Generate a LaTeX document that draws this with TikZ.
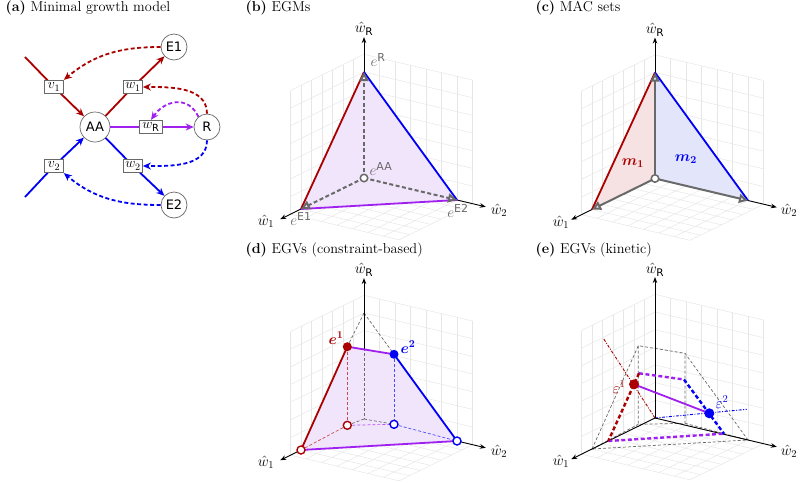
\documentclass[tikz,border=0pt]{standalone}
\usepackage{fix-cm}
\usepackage{amsmath,bm}
\usepackage{fontspec}
\newfontfamily\dejavu{DejaVu Sans}
\usetikzlibrary{arrows.meta}
\definecolor{cred}{RGB}{170,0,0}
\definecolor{cblue}{RGB}{0,0,245}
\definecolor{cpur}{RGB}{160,32,240}
\definecolor{cgray}{RGB}{105,105,105}
\definecolor{cgrid}{RGB}{230,230,230}
\definecolor{pfill}{RGB}{241,229,252}
\definecolor{rfill}{RGB}{246,226,226}
\definecolor{bfill}{RGB}{227,229,251}
\newcommand{\sfR}[1]{\text{\dejavu #1}}
\newcommand{\sfS}[1]{\text{\dejavu\fontsize{11}{12}\selectfont #1}}
\newcommand{\mygrid}{%
  \foreach \i in {0,...,7}{
    \draw[gridl] (\i/6,0,0) -- (\i/6,0,7/6);
    \draw[gridl] (0,0,\i/6) -- (7/6,0,\i/6);
    \draw[gridl] (0,\i/6,0) -- (0,\i/6,7/6);
    \draw[gridl] (0,0,\i/6) -- (0,7/6,\i/6);
    \draw[gridl] (\i/6,0,0) -- (\i/6,7/6,0);
    \draw[gridl] (0,\i/6,0) -- (7/6,\i/6,0);
  }}
\tikzset{
  P3/.style={x={(-63pt,-31pt)},y={(93pt,-22pt)},z={(0pt,106pt)}},
  gridl/.style={cgrid, line width=0.5pt},
  axl/.style={black, line width=0.9pt, -{Stealth[length=6pt,width=4.5pt]}},
  thk/.style={line width=1.8pt},
  atip/.style={-{Stealth[length=8pt,width=7pt]}},
  dsh/.style={dash pattern=on 4pt off 2.5pt},
  circnode/.style={circle, draw=cgray, line width=0.7pt, minimum size=26pt, inner sep=0pt, font=\dejavu\fontsize{13}{15}\selectfont, fill=white},
  boxnode/.style={rectangle, draw=cgray, line width=0.8pt, fill=white, minimum width=19pt, minimum height=13.5pt, inner sep=1pt, font=\fontsize{14}{16}\selectfont},
  garrow/.style={cgray, line width=2pt, -{Triangle[open,length=9pt,width=9pt]}},
  thindash/.style={line width=0.7pt, dash pattern=on 3pt off 2pt},
  thickdash/.style={line width=2.4pt, dash pattern=on 4pt off 2.5pt},
  dashdot/.style={line width=0.9pt, dash pattern=on 3pt off 1.5pt on 1pt off 1.5pt},
  hdot/.style={circle, draw=#1, line width=1.4pt, fill=white, minimum size=8pt, inner sep=0pt},
  fdot/.style={circle, fill=#1, minimum size=9pt, inner sep=0pt},
  omark/.style={circle, draw=cgray, line width=1.5pt, fill=white, minimum size=7.5pt, inner sep=0pt},
  ttl/.style={anchor=base west, font=\fontsize{14.3}{16}\selectfont},
  axlab/.style={font=\fontsize{15}{17}\selectfont},
  lab/.style={font=\fontsize{15}{17}\selectfont},
}
\begin{document}
\begin{tikzpicture}[x=1pt,y=-1pt, font=\fontsize{13}{15}\selectfont]
\useasboundingbox (0,0) rectangle (800,482);

% ---------------- titles
\node[ttl] (ta) at (2,11.5) {\textbf{(a)} Minimal growth model};
\node[ttl] (tb) at (242,11.5) {\textbf{(b)} EGMs};
\node[ttl] (tc) at (532,11.5) {\textbf{(c)} MAC sets};
\node[ttl] (td) at (242,253) {\textbf{(d)} EGVs (constraint-based)};
\node[ttl] (te) at (532,253) {\textbf{(e)} EGVs (kinetic)};

% ---------------- panel (a)
\node[circnode, minimum size=30pt] (AA) at (95,127) {AA};
\node[circnode] (R) at (207,127) {R};
\node[circnode] (E1) at (174,47) {E1};
\node[circnode] (E2) at (174,205) {E2};
\coordinate (in1) at (25,57);
\coordinate (in2) at (25,197);
\draw[cred, thk] (in1) -- (54,87);
\draw[cblue, thk] (in2) -- (54,166);
\draw[cred, thk, atip] (54,87) -- (AA);
\draw[cblue, thk, atip] (54,166) -- (AA);
\draw[cred, thk] (AA) -- (133,87);
\draw[cred, thk, atip] (133,87) -- (E1);
\draw[cblue, thk] (AA) -- (133,166);
\draw[cblue, thk, atip] (133,166) -- (E2);
\draw[cpur, thk] (AA) -- (151,127);
\draw[cpur, thk, atip] (151,127) -- (R);
\node[boxnode] (v1) at (54,87) {$v_1$};
\node[boxnode] (w1) at (133,87) {$w_1$};
\node[boxnode, minimum width=23pt] (wR) at (151,127) {$w_{\sfR{R}}$};
\node[boxnode] (v2) at (54,166) {$v_2$};
\node[boxnode] (w2) at (133,166) {$w_2$};
\draw[cred, thk, dsh, atip] (E1.west) to[out=180,in=40] (v1.north east);
\draw[cred, thk, dsh, atip] (R.north) to[out=90,in=0] (w1.east);
\draw[cpur, thk, dsh, atip] (R.130) to[out=115,in=55,looseness=1.3] (wR.north);
\draw[cblue, thk, dsh, atip] (R.south) to[out=-90,in=0] (w2.east);
\draw[cblue, thk, dsh, atip] (E2.west) to[out=180,in=-40] (v2.south east);

% ---------------- panel (b)
\begin{scope}[shift={(364,178)}, P3]
  \mygrid
  \coordinate (bO) at (0,0,0);
  \coordinate (bE1) at (1,0,0);
  \coordinate (bE2) at (0,1,0);
  \coordinate (bR) at (0,0,1);
  \coordinate (bT1) at (1.33,0,0);
  \coordinate (bT2) at (0,1.31,0);
  \coordinate (bTR) at (0,0,1.33);
\end{scope}
\fill[pfill] (bE1) -- (bR) -- (bE2) -- cycle;
\draw[axl] (bR) -- (bTR);
\draw[axl] (bE1) -- (bT1);
\draw[axl] (bE2) -- (bT2);
\draw[cred, thk] (bE1) -- (bR);
\draw[cblue, thk] (bR) -- (bE2);
\draw[cpur, thk] (bE1) -- (bE2);
\draw[garrow, dsh] (bO) -- (bR);
\draw[garrow, dsh] (bO) -- (bE1);
\draw[garrow, dsh] (bO) -- (bE2);
\node[omark] (bOm) at (bO) {};
\node[axlab] (bLR) at (364,29) {$\hat w_{\sfR{R}}$};
\node[axlab] (bL1) at (266,221) {$\hat w_1$};
\node[axlab] (bL2) at (499,210) {$\hat w_2$};
\node[lab, text=cgray] (beR) at (378,60) {$e^{\sfS{R}}$};
\node[lab, text=cgray] (beAA) at (381,169) {$e^{\sfS{AA}}$};
\node[lab, text=cgray] (beE1) at (301,219) {$e^{\sfS{E1}}$};
\node[lab, text=cgray] (beE2) at (458,211) {$e^{\sfS{E2}}$};

% ---------------- panel (c)
\begin{scope}[shift={(655,178.5)}, P3]
  \mygrid
  \coordinate (cO) at (0,0,0);
  \coordinate (cE1) at (1,0,0);
  \coordinate (cE2) at (0,1,0);
  \coordinate (cR) at (0,0,1);
  \coordinate (cT1) at (1.33,0,0);
  \coordinate (cT2) at (0,1.31,0);
  \coordinate (cTR) at (0,0,1.33);
\end{scope}
\fill[rfill] (cO) -- (cE1) -- (cR) -- cycle;
\fill[bfill] (cO) -- (cE2) -- (cR) -- cycle;
\draw[axl] (cR) -- (cTR);
\draw[axl] (cE1) -- (cT1);
\draw[axl] (cE2) -- (cT2);
\draw[cred, thk] (cE1) -- (cR);
\draw[cblue, thk] (cR) -- (cE2);
\draw[garrow] (cO) -- (cR);
\draw[garrow] (cO) -- (cE1);
\draw[garrow] (cO) -- (cE2);
\node[omark] (cOm) at (cO) {};
\node[axlab] (cLR) at (655,30) {$\hat w_{\sfR{R}}$};
\node[axlab] (cL1) at (561,222) {$\hat w_1$};
\node[axlab] (cL2) at (789,210) {$\hat w_2$};
\node[lab, text=cred] (cm1) at (633,163) {$\bm{m_1}$};
\node[lab, text=cblue] (cm2) at (686,159) {$\bm{m_2}$};

% ---------------- panel (d)
\begin{scope}[shift={(364,419)}, P3]
  \mygrid
  \coordinate (dO) at (0,0,0);
  \coordinate (dE1) at (1,0,0);
  \coordinate (dE2) at (0,1,0);
  \coordinate (dR) at (0,0,1);
  \coordinate (dT1) at (1.33,0,0);
  \coordinate (dT2) at (0,1.31,0);
  \coordinate (dTR) at (0,0,1.33);
\end{scope}
\coordinate (de1) at (347.3,346.7);
\coordinate (de2) at (394,354.3);
\coordinate (df1) at (347.3,425.3);
\coordinate (df2) at (394,424.3);
\coordinate (dRa) at (364,349.4);
\fill[pfill] (dE1) -- (de1) -- (de2) -- (dE2) -- cycle;
\draw[cgray, thindash] (dR) -- (de1);
\draw[cgray, thindash] (dR) -- (de2);
\draw[cgray, thindash] (dR) -- (dO);
\draw[cgray, thindash] (dO) -- (df1);
\draw[cgray, thindash] (dO) -- (df2);
\draw[cred!70, thindash] (de1) -- (df1);
\draw[cred!70, thindash] (df1) -- (dE1);
\draw[cblue!70, thindash] (de2) -- (df2);
\draw[cblue!70, thindash] (df2) -- (dE2);
\draw[cpur!80, thindash] (df1) -- (df2);
\draw[axl] (dRa) -- (dTR);
\draw[axl] (dE1) -- (dT1);
\draw[axl] (dE2) -- (dT2);
\draw[cred, thk] (dE1) -- (de1);
\draw[cpur, thk] (de1) -- (de2);
\draw[cblue, thk] (de2) -- (dE2);
\draw[cpur, thk] (dE1) -- (dE2);
\node[fdot=cred] (mde1) at (de1) {};
\node[fdot=cblue] (mde2) at (de2) {};
\node[hdot=cred] (mdf1) at (df1) {};
\node[hdot=cblue] (mdf2) at (df2) {};
\node[hdot=cred] (mdE1) at (dE1) {};
\node[hdot=cblue] (mdE2) at (dE2) {};
\node[axlab] (dLR) at (364,270) {$\hat w_{\sfR{R}}$};
\node[axlab] (dL1) at (266,462) {$\hat w_1$};
\node[axlab] (dL2) at (499,451) {$\hat w_2$};
\node[lab, text=cred] (dl1) at (336,338) {$\bm{e^1}$};
\node[lab, text=cblue] (dl2) at (408,347) {$\bm{e^2}$};

% ---------------- panel (e)
\begin{scope}[shift={(655,418)}, P3]
  \mygrid
  \coordinate (eO) at (0,0,0);
  \coordinate (eE1) at (1,0,0);
  \coordinate (eE2) at (0,1,0);
  \coordinate (eT1) at (1.33,0,0);
  \coordinate (eT2) at (0,1.31,0);
  \coordinate (eTR) at (0,0,1.33);
\end{scope}
\coordinate (ee1) at (638.3,345.7);
\coordinate (ee2) at (685,353.3);
\coordinate (ef1) at (638.3,424.3);
\coordinate (ef2) at (685,423.3);
\draw[cgray, thindash] (eE1) -- (ee1) -- (ee2) -- (eE2) -- cycle;
\draw[cgray, thindash] (ee1) -- (ef1) -- (ef2) -- (ee2);
\draw[cgray, thindash] (eE1) -- (ef1);
\draw[cgray, thindash] (ef2) -- (eE2);
\coordinate (eK1t) at (639,373.3);
\coordinate (eK2t) at (684,379.5);
\coordinate (eK1b) at (608.3,441);
\coordinate (eK2b) at (724,433.7);
\coordinate (eD1) at (603.3,338.3);
\coordinate (eD2) at (746.7,409.3);
\coordinate (eps1) at (634,384.3);
\coordinate (eps2) at (709.3,413.3);
\draw[cred, dashdot] (eO) -- (eD1);
\draw[cblue, dashdot] (eO) -- (eD2);
\draw[axl] (eO) -- (eTR);
\draw[axl] (eO) -- (eT1);
\draw[axl] (eO) -- (eT2);
\draw[cpur, thickdash] (eK1t) -- (eK2t);
\draw[cpur, thickdash] (eK1b) -- (eK2b);
\draw[cred, thickdash] (eK1t) -- (eK1b);
\draw[cblue, thickdash] (eK2t) -- (eK2b);
\draw[cpur, thk] (eps1) -- (eps2);
\node[fdot=cred, minimum size=10pt] (me1) at (eps1) {};
\node[fdot=cblue, minimum size=10pt] (me2) at (eps2) {};
\node[axlab] (eLR) at (655,270) {$\hat w_{\sfR{R}}$};
\node[axlab] (eL1) at (561,461) {$\hat w_1$};
\node[axlab] (eL2) at (789,451) {$\hat w_2$};
\node[lab, text=cred] (el1) at (619,387) {$\varepsilon^1$};
\node[lab, text=cblue] (el2) at (722,402) {$\varepsilon^2$};
\end{tikzpicture}
\end{document}
